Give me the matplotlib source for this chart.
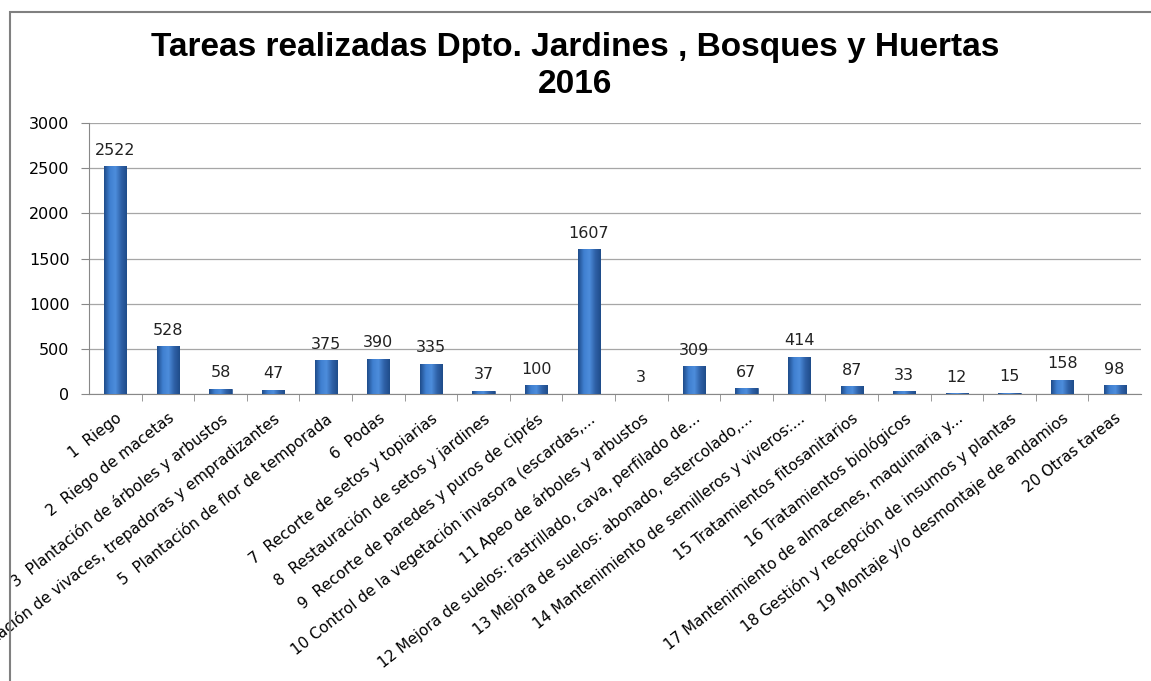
import numpy as np
import matplotlib.pyplot as plt
from matplotlib.patches import Rectangle
from matplotlib.colors import LinearSegmentedColormap

EDGE_COLOR = '#2a5490'

tareas = [
    '1  Riego',
    '2  Riego de macetas',
    '3  Plantación de árboles y arbustos',
    '4  Plantación de vivaces, trepadoras y empradizantes',
    '5  Plantación de flor de temporada',
    '6  Podas',
    '7  Recorte de setos y topiarias',
    '8  Restauración de setos y jardines',
    '9  Recorte de paredes y puros de ciprés',
    '10 Control de la vegetación invasora (escardas,...',
    '11 Apeo de árboles y arbustos',
    '12 Mejora de suelos: rastrillado, cava, perfilado de...',
    '13 Mejora de suelos: abonado, estercolado,...',
    '14 Mantenimiento de semilleros y viveros:...',
    '15 Tratamientos fitosanitarios',
    '16 Tratamientos biológicos',
    '17 Mantenimiento de almacenes, maquinaria y...',
    '18 Gestión y recepción de insumos y plantas',
    '19 Montaje y/o desmontaje de andamios',
    '20 Otras tareas',
]

cantidad = [2522, 528, 58, 47, 375, 390, 335, 37, 100, 1607,
            3, 309, 67, 414, 87, 33, 12, 15, 158, 98]

plt.rcParams['font.family'] = ['DejaVu Sans']

fig = plt.figure(figsize=(11.51, 6.81), dpi=100)
ax = fig.add_axes([0.0773, 0.4214, 0.914, 0.398])

x = range(len(tareas))
bars = ax.bar(x, cantidad, width=0.42, color='#3a70bd',
              edgecolor=EDGE_COLOR, linewidth=0.5, zorder=3)

# Excel-like shading inside each bar
cmap = LinearSegmentedColormap.from_list('bar', ['#1f4c8a', '#3f7fd0', '#4d8ddc', '#2f62a8', '#1f4c8a'])
grad = np.tile(np.linspace(0, 1, 64), (2, 1))
for b in bars:
    im = ax.imshow(grad, cmap=cmap, aspect='auto', zorder=3.5,
                   extent=(b.get_x(), b.get_x() + b.get_width(), 0, b.get_height()))
    im.set_clip_path(b)

for b, v in zip(bars, cantidad):
    ax.annotate(str(v), (b.get_x() + b.get_width() / 2, v),
                xytext=(0, 6), textcoords='offset points',
                ha='center', va='bottom', fontsize=11.5, color='#222222')

ax.set_xlim(-0.5, len(tareas) - 0.5)
ax.set_ylim(0, 3000)
ax.set_yticks(range(0, 3001, 500))
ax.set_xticks(list(x))
ax.set_xticklabels(tareas, rotation=38, ha='right',
                   rotation_mode='anchor', fontsize=11)
ax.tick_params(axis='y', labelsize=11.5, length=6, color='#888888', pad=8)
ax.set_xticks([i + 0.5 for i in x][:-1], minor=True)
ax.tick_params(axis='x', which='minor', length=5, color='#888888')
ax.tick_params(axis='x', which='major', length=0, pad=12)

ax.grid(axis='y', color='#a6a6a6', linewidth=0.9, zorder=0)
for s in ['top', 'right']:
    ax.spines[s].set_visible(False)
ax.spines['left'].set_color('#888888')
ax.spines['bottom'].set_color('#888888')

fig.text(0.5, 0.903, 'Tareas realizadas Dpto. Jardines , Bosques y Huertas\n2016',
         ha='center', va='center', fontsize=24, fontweight='bold',
         family=['Liberation Sans', 'DejaVu Sans'], linespacing=1.25)

# chart border
fig.patches.append(Rectangle((10 / 1151, -0.01), 1.1, 1 - 12 / 681 + 0.01,
                             transform=fig.transFigure, fill=False,
                             edgecolor='#808080', linewidth=1.5))

fig.savefig('out.png', dpi=100)
